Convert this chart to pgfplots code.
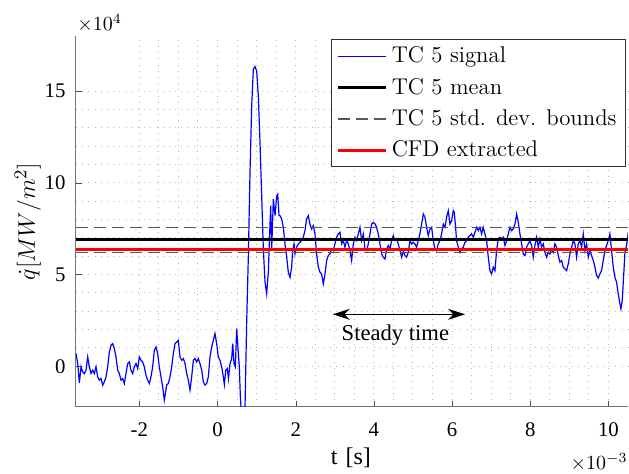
\documentclass[border=0pt]{standalone}
\usepackage{pgfplots}
\pgfplotsset{compat=1.18}
\usepackage{fontspec}
\setmainfont{Liberation Serif}
\newfontfamily\lmfont{Latin Modern Roman}
\usetikzlibrary{arrows.meta}
\begin{document}
\begin{tikzpicture}
\begin{axis}[
  scale only axis, width=276pt, height=185.3pt,
  xmin=-3.62, xmax=10.5, ymin=-2.2, ymax=18,
  axis x line*=bottom, axis y line*=left,
  axis line style={black!55, line width=0.5pt},
  xtick={-2,0,2,4,6,8,10}, ytick={0,5,10,15},
  minor x tick num=3, minor y tick num=4,
  grid=both,
  major grid style={dash pattern=on 0.5pt off 2.6pt, black!28, line width=0.5pt},
  minor grid style={dash pattern=on 0.5pt off 2.6pt, black!28, line width=0.5pt},
  tick align=inside, major tick length=3pt, minor tick length=0pt,
  tick style={black!70},
  scaled ticks=false,
  /pgf/number format/assume math mode=true,
  ticklabel style={font=\fontsize{10.4}{12}\selectfont},
  xticklabel style={yshift=-4.5pt},
  yticklabel style={xshift=-1.7pt},
  xlabel={t\,\,[s]},
  xlabel style={at={(0.498,-0.155)}, anchor=base, font=\fontsize{12}{15}\selectfont},
  ylabel={$\dot{q}[MW/m^2]$},
  ylabel style={at={(-0.0743,0.5)}, anchor=base, rotate=0, font=\fontsize{13}{15}\selectfont},
  legend style={at={(0.9964,0.991)}, anchor=north east, draw=black!80, line width=0.5pt,
    fill=white, font=\lmfont\fontsize{11.4}{14}\selectfont, inner xsep=2.5pt, inner ysep=1.5pt,
    row sep=2.1pt, cells={anchor=west}},
  legend image code/.code={\draw[#1] (0pt,0pt) -- (24pt,0pt);},
]
\addplot[blue, line width=0.6pt] coordinates {
(-3.619,0.69) (-3.576,0.145) (-3.534,-0.906) (-3.491,-0.036) (-3.448,-0.308) (-3.406,-0.399) (-3.363,-0.217) (-3.321,0.507) (-3.278,-0.036) (-3.235,-0.399) (-3.193,-0.217) (-3.150,-0.399) (-3.108,-0.036) (-3.065,-0.58) (-3.022,-0.76) (-2.980,-0.67) (-2.937,-1.03) (-2.895,-0.85) (-2.852,-0.58) (-2.809,-0.036) (-2.767,0.78) (-2.724,1.14) (-2.682,1.23) (-2.639,0.96) (-2.596,0.507) (-2.554,-0.217) (-2.511,-0.399) (-2.469,-0.76) (-2.426,-0.67) (-2.383,-0.94) (-2.341,-0.399) (-2.298,0.145) (-2.256,0.236) (-2.213,-0.217) (-2.170,-0.399) (-2.128,-0.036) (-2.085,0.145) (-2.043,-0.127) (-2.000,0.507) (-1.957,0.326) (-1.915,0.236) (-1.872,-0.036) (-1.830,-0.49) (-1.787,-0.76) (-1.744,-0.94) (-1.702,-0.58) (-1.659,-0.036) (-1.616,0.87) (-1.574,1.05) (-1.531,0.69) (-1.489,-0.036) (-1.446,-0.58) (-1.403,-1.12) (-1.361,-1.85) (-1.300,-1.03)
(-1.257,-0.94) (-1.215,-0.58) (-1.172,-0.036) (-1.130,0.69) (-1.087,1.23) (-1.044,1.32) (-1.002,1.41) (-0.959,0.507) (-0.917,0.326) (-0.874,0.417) (-0.831,0.145) (-0.789,-0.399) (-0.746,-0.76) (-0.703,-1.30) (-0.661,-0.58) (-0.618,0.326) (-0.576,0.417) (-0.533,0.236) (-0.490,0.417) (-0.448,0.145) (-0.405,-0.217) (-0.363,-0.85) (-0.320,-1.03) (-0.277,-0.94) (-0.235,-0.58) (-0.192,0.507) (-0.149,1.05) (-0.107,1.41) (-0.064,1.78) (-0.022,1.23) (0.021,0.507) (0.064,0.326) (0.107,-0.036) (0.149,-0.58) (0.175,-1.0) (0.21,-0.217) (0.25,-0.127) (0.28,-0.67) (0.32,0.145) (0.362,0.4) (0.39,1.23) (0.422,0.145) (0.456,-0.036) (0.49,2.05) (0.533,0.69) (0.558,-0.036) (0.584,-1.66) (0.64,-3.5) (0.703,-2.3)
(0.746,2.41) (0.789,6.03) (0.831,10.56) (0.874,14.18) (0.916,16.18) (0.959,16.33) (1.002,16.09) (1.044,14.73) (1.087,12.19) (1.130,9.29) (1.172,6.39) (1.215,4.59) (1.257,3.95) (1.300,5.13) (1.326,6.76) (1.36,8.75) (1.386,6.39) (1.428,9.11) (1.471,8.21) (1.514,9.29) (1.54,9.38) (1.573,8.21) (1.598,8.21) (1.641,8.03) (1.684,7.57) (1.726,6.67) (1.769,5.94) (1.812,5.12) (1.854,4.84) (1.897,5.40) (1.92,6.30) (1.957,6.67) (1.982,6.12) (2.024,6.49) (2.066,6.67)
(2.109,6.76) (2.152,6.85) (2.194,7.03) (2.237,7.39) (2.280,8.03) (2.322,8.21) (2.365,7.75) (2.408,7.48) (2.450,7.66) (2.493,7.21) (2.535,6.12) (2.578,5.40) (2.621,5.12) (2.663,5.03) (2.706,4.49) (2.749,5.03) (2.791,5.76) (2.834,6.03) (2.876,6.12) (2.919,6.39) (2.962,6.30) (3.004,6.67) (3.047,7.03) (3.09,7.21) (3.132,7.30) (3.175,6.67) (3.217,6.85) (3.26,6.49) (3.303,6.85) (3.345,6.67) (3.388,6.30) (3.431,5.76) (3.473,6.67) (3.516,7.03) (3.558,6.85) (3.601,7.21) (3.644,7.57) (3.686,6.85) (3.729,7.21)
(3.772,6.4) (3.815,6.30) (3.857,6.67) (3.9,7.21) (3.943,7.75) (3.985,7.84) (4.028,7.75) (4.07,7.57) (4.113,7.21) (4.156,6.67) (4.198,6.12) (4.241,5.94) (4.283,5.85) (4.326,6.39) (4.369,6.58) (4.411,6.39) (4.454,6.85) (4.497,7.12) (4.539,6.85) (4.582,6.94) (4.624,6.67) (4.667,6.30) (4.71,5.94) (4.752,6.30) (4.795,6.03) (4.837,5.94) (4.88,6.21) (4.923,6.85) (4.965,6.67) (5.008,6.76) (5.05,6.67) (5.093,6.49) (5.136,6.85) (5.178,7.21) (5.221,7.75) (5.264,8.30) (5.306,8.12) (5.349,7.57) (5.391,7.12) (5.434,7.48) (5.477,7.57) (5.519,6.85) (5.562,6.39) (5.604,6.30) (5.647,6.67) (5.69,6.85) (5.732,7.21) (5.775,7.75) (5.818,7.57) (5.86,8.12) (5.903,8.48)
(5.946,7.75) (5.989,7.93) (6.031,8.48) (6.057,8.39) (6.09,7.57) (6.116,6.85) (6.159,6.49) (6.202,6.21) (6.244,6.39) (6.287,6.49) (6.33,6.76) (6.372,6.85) (6.415,7.03) (6.457,7.12) (6.5,7.21) (6.543,7.03) (6.585,7.30) (6.628,7.57) (6.671,7.39) (6.713,7.57) (6.756,7.21) (6.798,7.57) (6.841,7.21) (6.884,6.85) (6.926,5.94) (6.969,5.21) (7.012,5.03) (7.054,5.40) (7.097,5.21) (7.139,6.30) (7.182,6.94) (7.225,7.03) (7.267,6.94) (7.31,7.03) (7.353,6.58) (7.395,6.85) (7.438,7.21) (7.48,7.57) (7.523,7.39) (7.566,7.48) (7.608,7.75) (7.651,8.30) (7.694,7.84) (7.736,7.21) (7.779,6.67) (7.821,6.12) (7.864,6.03) (7.907,6.49) (7.949,6.67) (7.992,6.85) (8.034,6.58) (8.077,5.94)
(8.12,6.6) (8.163,7.03) (8.205,6.49) (8.248,6.94) (8.29,6.49) (8.333,6.67) (8.376,6.21) (8.418,5.94) (8.461,6.21) (8.504,6.12) (8.546,6.39) (8.589,6.21) (8.631,6.67) (8.674,6.49) (8.717,6.03) (8.759,5.67) (8.802,5.76) (8.844,5.40) (8.887,5.30) (8.93,5.21) (8.972,5.58) (9.015,6.12) (9.058,6.49) (9.1,6.85) (9.143,6.67) (9.185,5.94) (9.228,6.67) (9.271,6.85) (9.313,6.49) (9.356,7.21) (9.399,6.30) (9.441,6.67) (9.484,5.94) (9.526,6.30) (9.569,6.03) (9.612,5.76) (9.654,5.40) (9.697,4.94) (9.74,4.81) (9.782,5.03) (9.825,5.21) (9.867,5.76) (9.91,6.30) (9.953,6.58) (9.995,6.85) (10.038,7.21) (10.08,6.30) (10.123,5.40) (10.166,4.85) (10.208,4.58) (10.251,3.94) (10.294,3.40) (10.319,3.13) (10.353,3.58) (10.387,4.85) (10.422,6.21) (10.464,6.58) (10.507,7.30)
};
\addlegendentry{TC 5 signal}
\addplot[black, line width=1.5pt] coordinates {(-3.62,6.88) (10.5,6.88)};
\addlegendentry{TC 5 mean}
\addplot[black!65, line width=0.7pt, dash pattern=on 6pt off 3pt] coordinates {(-3.62,7.57) (10.5,7.57)};
\addlegendentry{TC 5 std. dev. bounds}
\addplot[black!65, line width=0.7pt, dash pattern=on 6pt off 3pt, forget plot] coordinates {(-3.62,6.21) (10.5,6.21)};
\addplot[red, line width=1.5pt] coordinates {(-3.62,6.34) (10.5,6.34)};
\addlegendentry{CFD extracted}
\draw[{Stealth[length=8.5pt,width=5.5pt]}-{Stealth[length=8.5pt,width=5.5pt]}, line width=0.6pt] (axis cs:2.95,2.83) -- (axis cs:6.33,2.83);
\node[anchor=base, font=\fontsize{11.3}{13}\selectfont] at (axis cs:4.55,1.41) {Steady time};
\end{axis}
\node[anchor=base west, font=\fontsize{10.4}{12}\selectfont, inner sep=0pt] at ([xshift=0.5pt,yshift=2.5pt]current axis.north west) {$\times10^{4}$};
\node[anchor=base east, font=\fontsize{10.4}{12}\selectfont, inner sep=0pt] at ([yshift=-31.7pt]current axis.south east) {$\times10^{-3}$};
\pgfresetboundingbox
\path[use as bounding box] ([xshift=-38pt,yshift=-33.65pt]current axis.south west) rectangle ([xshift=276.5pt,yshift=203.3pt]current axis.south west);
\end{tikzpicture}
\end{document}
